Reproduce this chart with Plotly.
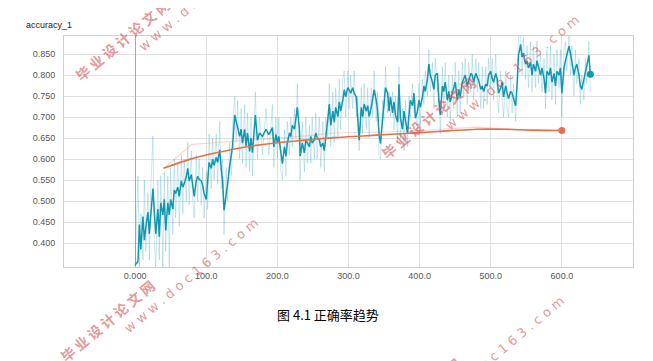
import plotly.graph_objects as go

# ---------------- data ----------------
steps = [0, 4, 6, 8, 11, 13, 15, 18, 20, 22, 25, 27, 29, 32, 34, 36, 39, 41, 43, 46, 48, 50, 53, 55, 57, 60,
         62, 65, 67, 69, 72, 74, 76, 79, 81, 83, 86, 88, 90, 93, 95, 97, 100, 102, 104, 107, 109, 111, 114, 116,
         119, 121, 123, 125, 128, 130, 133, 135, 137, 140, 142, 144, 147, 149, 151, 154, 156, 158, 161, 163, 165,
         169, 172, 175, 179, 184, 188, 193, 195, 198, 200, 202, 205, 207, 210, 212, 214, 217, 219, 221, 224, 226,
         228, 231, 232, 235, 238, 240, 242, 245, 247, 249, 252, 254, 256, 259, 261, 264, 266, 268, 271, 273, 275,
         278, 280, 282, 285, 287, 289, 292, 294, 296, 299, 301, 303, 306, 308, 311, 313, 315, 318, 320, 322, 325,
         327, 329, 332, 334, 336, 339, 341, 343, 345, 348, 350, 352, 355, 357, 359, 362, 364, 366, 369, 371, 373,
         376, 378, 380, 383, 385, 387, 390, 392, 394, 397, 399, 401, 404, 406, 408, 411, 413, 415, 418, 420, 422,
         425, 427, 429, 432, 434, 436, 439, 441, 443, 446, 448, 450, 453, 455, 457, 460, 462, 464, 467, 469, 472,
         474, 476, 479, 481, 483, 486, 488, 490, 493, 495, 497, 500, 502, 504, 507, 509, 511, 514, 516, 518, 521,
         523, 525, 528, 530, 532, 535, 537, 539, 542, 544, 546, 549, 551, 553, 556, 558, 560, 563, 565, 567, 570,
         572, 575, 577, 579, 582, 584, 586, 589, 591, 593, 596, 598, 600, 603, 605, 607, 610, 612, 614, 617, 619,
         621, 624, 626, 628, 631, 633, 635, 638, 640]

train_smoothed = [0.348, 0.356, 0.444, 0.385, 0.463, 0.407, 0.437, 0.474, 0.422, 0.474, 0.530, 0.474, 0.422, 0.481,
                  0.415, 0.496, 0.467, 0.504, 0.430, 0.496, 0.467, 0.504, 0.481, 0.526, 0.518, 0.533, 0.511, 0.548,
                  0.533, 0.541, 0.559, 0.578, 0.548, 0.563, 0.541, 0.511, 0.548, 0.559, 0.552, 0.548, 0.537, 0.518,
                  0.504, 0.541, 0.592, 0.578, 0.600, 0.585, 0.604, 0.592, 0.622, 0.578, 0.548, 0.478, 0.526, 0.541,
                  0.585, 0.607, 0.629, 0.705, 0.688, 0.680, 0.654, 0.671, 0.638, 0.671, 0.631, 0.662, 0.618, 0.650,
                  0.615, 0.705, 0.645, 0.662, 0.654, 0.671, 0.658, 0.675, 0.629, 0.658, 0.638, 0.654, 0.615, 0.589,
                  0.629, 0.607, 0.638, 0.662, 0.654, 0.680, 0.671, 0.697, 0.723, 0.671, 0.607, 0.638, 0.615, 0.646,
                  0.638, 0.629, 0.654, 0.638, 0.646, 0.662, 0.650, 0.646, 0.629, 0.638, 0.620, 0.646, 0.697, 0.731,
                  0.680, 0.714, 0.688, 0.723, 0.701, 0.736, 0.714, 0.740, 0.765, 0.748, 0.770, 0.765, 0.757, 0.770,
                  0.757, 0.748, 0.705, 0.645, 0.723, 0.701, 0.731, 0.714, 0.727, 0.701, 0.723, 0.744, 0.765, 0.740,
                  0.714, 0.658, 0.637, 0.697, 0.731, 0.770, 0.757, 0.714, 0.748, 0.710, 0.736, 0.705, 0.688, 0.778,
                  0.697, 0.671, 0.714, 0.688, 0.662, 0.705, 0.740, 0.727, 0.757, 0.697, 0.714, 0.740, 0.723, 0.748,
                  0.774, 0.761, 0.791, 0.826, 0.800, 0.783, 0.766, 0.800, 0.804, 0.740, 0.705, 0.774, 0.761, 0.783,
                  0.740, 0.761, 0.736, 0.757, 0.774, 0.783, 0.740, 0.766, 0.748, 0.783, 0.791, 0.800, 0.774, 0.787,
                  0.804, 0.800, 0.783, 0.804, 0.796, 0.787, 0.766, 0.774, 0.761, 0.778, 0.774, 0.800, 0.809, 0.791,
                  0.783, 0.804, 0.791, 0.757, 0.770, 0.783, 0.748, 0.774, 0.757, 0.744, 0.761, 0.757, 0.744, 0.727,
                  0.774, 0.847, 0.873, 0.843, 0.852, 0.826, 0.834, 0.817, 0.830, 0.800, 0.826, 0.809, 0.834, 0.817,
                  0.800, 0.817, 0.791, 0.757, 0.809, 0.800, 0.817, 0.783, 0.804, 0.774, 0.809, 0.800, 0.817, 0.757,
                  0.817, 0.834, 0.847, 0.869, 0.852, 0.826, 0.800, 0.817, 0.826, 0.800, 0.774, 0.766, 0.791, 0.800,
                  0.817, 0.847, 0.802]

train_raw = [0.343, 0.56, 0.343, 0.47, 0.36, 0.55, 0.38, 0.52, 0.36, 0.53, 0.655, 0.40, 0.343, 0.55, 0.36, 0.56,
             0.343, 0.57, 0.38, 0.56, 0.343, 0.58, 0.42, 0.60, 0.46, 0.59, 0.44, 0.61, 0.47, 0.60, 0.50, 0.64, 0.49,
             0.62, 0.50, 0.46, 0.61, 0.50, 0.60, 0.49, 0.58, 0.46, 0.57, 0.48, 0.66, 0.53, 0.65, 0.55, 0.66, 0.54,
             0.69, 0.53, 0.60, 0.42, 0.58, 0.50, 0.64, 0.56, 0.68, 0.75, 0.64, 0.74, 0.60, 0.72, 0.59, 0.73, 0.58,
             0.71, 0.57, 0.70, 0.56, 0.76, 0.60, 0.70, 0.61, 0.72, 0.61, 0.73, 0.58, 0.70, 0.60, 0.70, 0.57, 0.55,
             0.67, 0.56, 0.69, 0.61, 0.70, 0.63, 0.72, 0.65, 0.78, 0.62, 0.55, 0.69, 0.57, 0.70, 0.59, 0.68, 0.59,
             0.70, 0.60, 0.71, 0.60, 0.70, 0.58, 0.69, 0.57, 0.70, 0.65, 0.78, 0.63, 0.76, 0.64, 0.77, 0.65, 0.79,
             0.67, 0.79, 0.81, 0.70, 0.81, 0.72, 0.80, 0.72, 0.81, 0.70, 0.75, 0.62, 0.77, 0.66, 0.78, 0.67, 0.77,
             0.65, 0.77, 0.70, 0.81, 0.69, 0.76, 0.61, 0.60, 0.74, 0.69, 0.82, 0.71, 0.76, 0.70, 0.76, 0.67, 0.75,
             0.64, 0.82, 0.65, 0.72, 0.62, 0.74, 0.63, 0.75, 0.70, 0.78, 0.71, 0.74, 0.66, 0.78, 0.68, 0.79, 0.73,
             0.81, 0.75, 0.86, 0.76, 0.83, 0.72, 0.84, 0.76, 0.78, 0.66, 0.82, 0.72, 0.83, 0.70, 0.80, 0.69, 0.80,
             0.72, 0.83, 0.70, 0.81, 0.71, 0.83, 0.75, 0.84, 0.73, 0.83, 0.76, 0.85, 0.74, 0.84, 0.76, 0.83, 0.72,
             0.82, 0.72, 0.82, 0.73, 0.84, 0.77, 0.84, 0.74, 0.85, 0.75, 0.71, 0.81, 0.74, 0.70, 0.81, 0.72, 0.70,
             0.80, 0.71, 0.78, 0.69, 0.82, 0.89, 0.893, 0.80, 0.89, 0.79, 0.87, 0.77, 0.88, 0.76, 0.87, 0.77, 0.88,
             0.78, 0.85, 0.76, 0.84, 0.72, 0.86, 0.76, 0.87, 0.74, 0.85, 0.73, 0.86, 0.77, 0.86, 0.70, 0.86, 0.88,
             0.81, 0.893, 0.80, 0.87, 0.75, 0.86, 0.78, 0.84, 0.73, 0.80, 0.74, 0.84, 0.78, 0.88, 0.76]

eval_steps = [40, 80, 120, 160, 200, 240, 280, 320, 360, 400, 440, 480, 520, 560, 600]
eval_smoothed = [0.578, 0.601, 0.617, 0.630, 0.639, 0.645, 0.651, 0.655, 0.659, 0.663, 0.667, 0.671, 0.671,
                 0.669, 0.668]
eval_raw = [0.578, 0.635, 0.640, 0.645, 0.650, 0.655, 0.662, 0.663, 0.665, 0.668, 0.672, 0.676, 0.672, 0.667,
            0.668]

x_tick_vals = [0, 100, 200, 300, 400, 500, 600]
x_tick_text = ["0.000", "100.0", "200.0", "300.0", "400.0", "500.0", "600.0"]
y_tick_vals = [0.40, 0.45, 0.50, 0.55, 0.60, 0.65, 0.70, 0.75, 0.80, 0.85]

chart_title = "accuracy_1"
caption = "图 4.1 正确率趋势"
wm_cn = "毕 业 设 计 论 文 网"
wm_en = "w w w . d o c 1 6 3 . c o m"

# ---------------- figure ----------------
# the page body has an 8px margin, so the figure is placed 8px in from the window corner
PAGE_W, PAGE_H, OFF = 653, 361, 8
W, H = PAGE_W - OFF, PAGE_H - OFF
# plot area in window pixels: left 64, right 633, top 36, bottom 267
L, T = 64 - OFF, 36 - OFF
R = W - (633 - OFF)
B = H - (267 - OFF)
pw, ph = 633 - 64, 267 - 36

def P(px, py):
    """window pixel -> paper coordinates"""
    return (px - 64) / pw, (267 - py) / ph

TEAL = "#1197b0"
TEAL_LIGHT = "rgba(17,151,176,0.22)"
ORANGE = "#e2714c"
ORANGE_LIGHT = "rgba(240,140,110,0.35)"

fig = go.Figure()
fig.add_trace(go.Scatter(x=steps, y=train_raw, mode="lines",
                         line=dict(color=TEAL_LIGHT, width=1), hoverinfo="skip", showlegend=False))
fig.add_trace(go.Scatter(x=eval_steps, y=eval_raw, mode="lines",
                         line=dict(color=ORANGE_LIGHT, width=1.2), hoverinfo="skip", showlegend=False))
fig.add_trace(go.Scatter(x=steps, y=train_smoothed, mode="lines",
                         line=dict(color=TEAL, width=1.5), showlegend=False))
fig.add_trace(go.Scatter(x=eval_steps, y=eval_smoothed, mode="lines",
                         line=dict(color=ORANGE, width=1.6, shape="spline"), showlegend=False))
fig.add_trace(go.Scatter(x=[steps[-1]], y=[train_smoothed[-1]], mode="markers",
                         marker=dict(color=TEAL, size=7), showlegend=False))
fig.add_trace(go.Scatter(x=[eval_steps[-1]], y=[eval_smoothed[-1]], mode="markers",
                         marker=dict(color=ORANGE, size=7), showlegend=False))

annotations = []
tx, ty = P(24, 25)
annotations.append(dict(text=chart_title, x=tx, y=ty, xref="paper", yref="paper", xanchor="left",
                        yanchor="middle", showarrow=False,
                        font=dict(family="Liberation Sans, Arial", size=9, color="#212121")))
cx, cy = P(328, 314)
annotations.append(dict(text=caption, x=cx, y=cy, xref="paper", yref="paper", xanchor="center",
                        yanchor="middle", showarrow=False,
                        font=dict(family="Noto Sans CJK SC", size=13, color="#000000")))

WM_COLOR = "rgba(212,85,85,0.62)"
for (ccx, ccy) in [(122, 40), (428, 118), (107, 321), (413, 399)]:
    ax, ay = P(ccx, ccy)
    annotations.append(dict(text=wm_cn, x=ax, y=ay, xref="paper", yref="paper", showarrow=False,
                            textangle=-40, xanchor="center", yanchor="middle",
                            font=dict(family="Noto Sans CJK SC", size=14, color=WM_COLOR, weight="bold")))
    bx, by = P(ccx + 84, ccy - 46)
    annotations.append(dict(text=wm_en, x=bx, y=by, xref="paper", yref="paper", showarrow=False,
                            textangle=-40, xanchor="center", yanchor="middle",
                            font=dict(family="DejaVu Sans", size=13, color=WM_COLOR)))

fig.update_layout(
    width=W, height=H,
    margin=dict(l=L, r=R, t=T, b=B, pad=0),
    paper_bgcolor="white", plot_bgcolor="white",
    annotations=annotations,
    font=dict(family="Liberation Sans, Arial", size=9, color="#555555"),
)
fig.update_xaxes(range=[-100, 700], tickvals=x_tick_vals, ticktext=x_tick_text,
                 showgrid=True, gridcolor="#e0e0e0", gridwidth=1,
                 zeroline=True, zerolinecolor="#a8a8a8", zerolinewidth=1,
                 showline=True, linecolor="#cfcfcf", mirror=True, ticks="",
                 automargin=False,
                 tickfont=dict(size=9, color="#555555"))
fig.update_yaxes(range=[0.343, 0.893], tickvals=y_tick_vals, tickformat=".3f",
                 showgrid=True, gridcolor="#e0e0e0", gridwidth=1, zeroline=False,
                 showline=True, linecolor="#cfcfcf", mirror=True, ticks="",
                 ticklabelstandoff=6, automargin=False,
                 tickfont=dict(size=9, color="#555555"))

fig.write_html("out.html")
